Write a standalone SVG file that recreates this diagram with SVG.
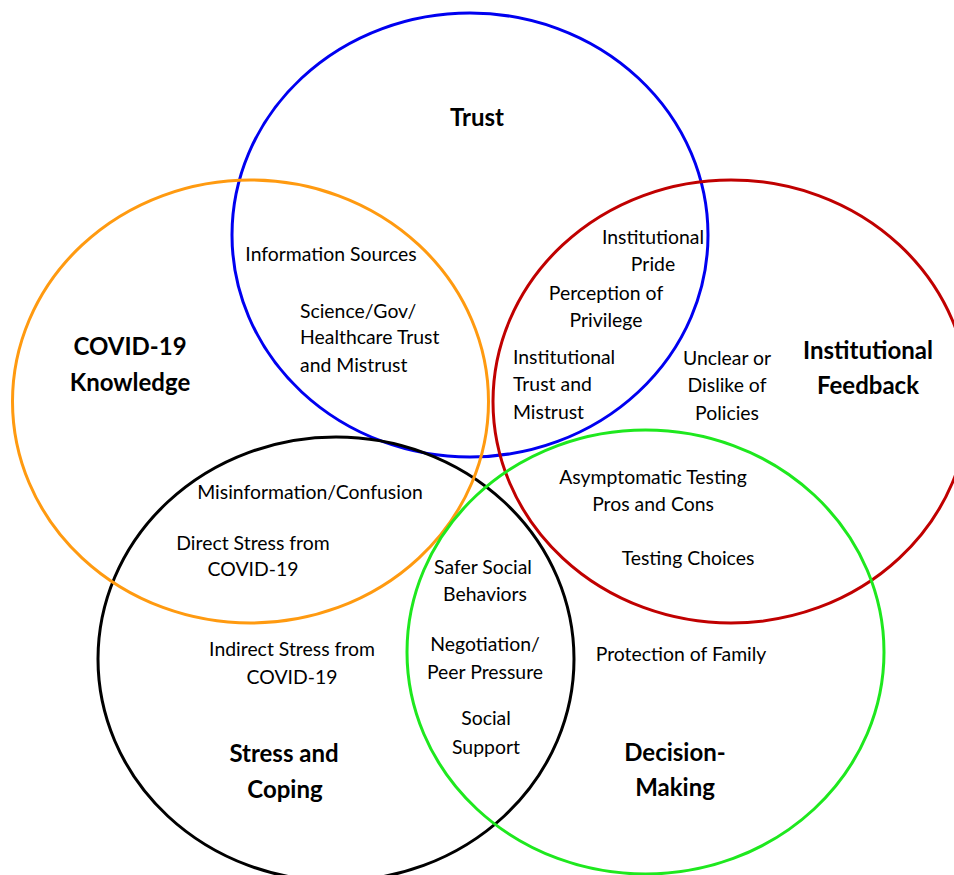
<svg xmlns="http://www.w3.org/2000/svg" width="954" height="875" viewBox="0 0 954 875">
  <style>
    .ring { fill: none; stroke-width: 3; }
    .t { font-family: Lato, "Liberation Sans", sans-serif; font-size: 19.4px; fill: #000; text-anchor: middle; }
    .l { text-anchor: start; }
    .h { font-family: Lato, "Liberation Sans", sans-serif; font-size: 24px; font-weight: bold; fill: #000; text-anchor: middle; }
  </style>
  <rect width="954" height="875" fill="#fff"/>

  <!-- Trust -->
  <g id="trust">
    <ellipse class="ring" cx="470" cy="235" rx="238" ry="222" stroke="#0000f0"/>
    <text class="h" x="477" y="126">Trust</text>
  </g>

  <!-- Stress and Coping -->
  <g id="stress-coping">
    <ellipse class="ring" cx="336" cy="659" rx="238" ry="222" stroke="#000"/>
    <text class="h" x="284" y="762">Stress and</text>
    <text class="h" x="285" y="798">Coping</text>
  </g>

  <!-- COVID-19 Knowledge -->
  <g id="covid-knowledge">
    <ellipse class="ring" cx="250.5" cy="401.5" rx="238" ry="221.5" stroke="#ff9a10"/>
    <text class="h" x="130" y="355">COVID-19</text>
    <text class="h" x="130" y="391">Knowledge</text>
  </g>

  <!-- Institutional Feedback -->
  <g id="institutional-feedback">
    <ellipse class="ring" cx="731" cy="401.5" rx="238" ry="221.5" stroke="#c00000"/>
    <text class="h" x="868" y="359">Institutional</text>
    <text class="h" x="868" y="394">Feedback</text>
  </g>

  <!-- Decision-Making -->
  <g id="decision-making">
    <ellipse class="ring" cx="645.5" cy="652" rx="238.5" ry="222" stroke="#1ee81e"/>
    <text class="h" x="675" y="761">Decision-</text>
    <text class="h" x="675" y="796">Making</text>
  </g>

  <!-- overlap themes -->
  <g id="themes">
    <text class="t" x="331" y="261">Information Sources</text>
    <text class="t l" x="300" y="318">Science/Gov/</text>
    <text class="t l" x="300" y="344">Healthcare Trust</text>
    <text class="t l" x="300" y="372">and Mistrust</text>

    <text class="t" x="653" y="244">Institutional</text>
    <text class="t" x="653" y="271">Pride</text>
    <text class="t" x="606" y="300">Perception of</text>
    <text class="t" x="606" y="327">Privilege</text>
    <text class="t l" x="513" y="364">Institutional</text>
    <text class="t l" x="513" y="391">Trust and</text>
    <text class="t l" x="513" y="419">Mistrust</text>
    <text class="t" x="727" y="365">Unclear or</text>
    <text class="t" x="727" y="392">Dislike of</text>
    <text class="t" x="727" y="420">Policies</text>

    <text class="t" x="310" y="499">Misinformation/Confusion</text>
    <text class="t" x="253" y="550">Direct Stress from</text>
    <text class="t" x="253" y="576">COVID-19</text>
    <text class="t" x="292" y="656">Indirect Stress from</text>
    <text class="t" x="292" y="684">COVID-19</text>

    <text class="t" x="483" y="574">Safer Social</text>
    <text class="t" x="485" y="601">Behaviors</text>
    <text class="t" x="485" y="651">Negotiation/</text>
    <text class="t" x="485" y="679">Peer Pressure</text>
    <text class="t" x="486" y="725">Social</text>
    <text class="t" x="486" y="754">Support</text>

    <text class="t" x="653" y="484">Asymptomatic Testing</text>
    <text class="t" x="653" y="511">Pros and Cons</text>
    <text class="t" x="688" y="565">Testing Choices</text>
    <text class="t" x="681" y="661">Protection of Family</text>
  </g>
</svg>
